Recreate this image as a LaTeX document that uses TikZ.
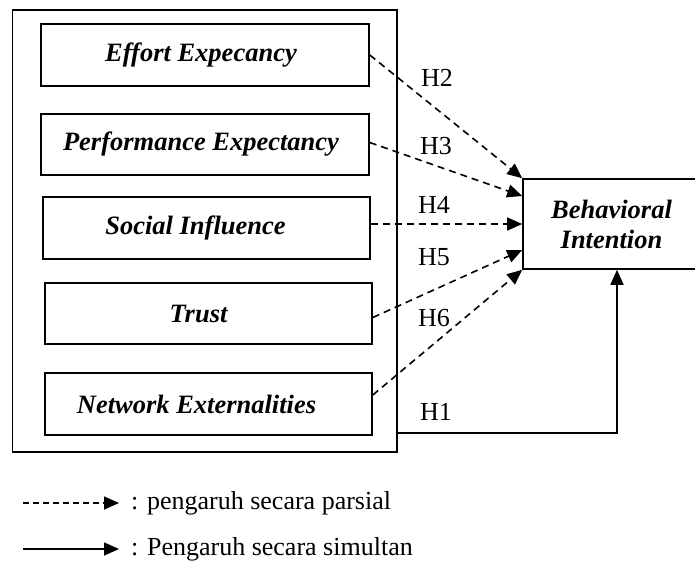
\documentclass[tikz,border=0pt]{standalone}
\usepackage{fontspec}
\setmainfont{Liberation Serif}
\usetikzlibrary{arrows.meta}
\begin{document}
\begin{tikzpicture}[x=1pt,y=-1pt,
  box/.style={draw, line width=1.6pt, inner sep=0pt, font=\fontsize{26.5}{30}\selectfont\bfseries\itshape},
  dasharrow/.style={draw, line width=1.6pt, dash pattern=on 7pt off 5pt, -{Triangle[length=15pt,width=13pt]}},
  solidarrow/.style={draw, line width=1.6pt, -{Triangle[length=15pt,width=13pt]}},
  hlabel/.style={font=\fontsize{26}{30}\selectfont, inner sep=0pt},
]
\useasboundingbox (0,0) rectangle (695,565);
\node[draw, line width=1.6pt, minimum width=384.5pt, minimum height=442pt, inner sep=0pt] (outer) at (204.75,231) {};
\node[box, minimum width=328pt, minimum height=62pt] (ee) at (205,55) {Effort Expecancy\hspace*{8pt}};
\node[box, minimum width=328pt, minimum height=61pt] (pe) at (205,144.5) {Performance Expectancy\hspace*{8pt}};
\node[box, minimum width=327pt, minimum height=62pt] (si) at (206.5,228) {Social Influence\hspace*{22pt}};
\node[box, minimum width=327pt, minimum height=61pt] (tr) at (208.5,313.5) {Trust\hspace*{20pt}};
\node[box, minimum width=327pt, minimum height=62pt] (ne) at (208.5,404) {Network Externalities\hspace*{24pt}};
\node[box, minimum width=177pt, minimum height=90pt, align=center] (bi) at (611.5,224) {Behavioral\\Intention};

\draw[dasharrow] (ee.east) -- (bi.north west);
\draw[dasharrow] ([yshift=2pt]pe.east) -- ([yshift=28pt]bi.west);
\draw[dasharrow] (si.east |- bi.west) -- (bi.west);
\draw[dasharrow] ([yshift=-4pt]tr.east) -- ([yshift=-26pt]bi.west);
\draw[dasharrow] ([yshift=9pt]ne.east) -- (bi.south west);
\coordinate (h1c) at (617,433);
\draw[solidarrow] (outer.east |- h1c) -| ([xshift=5.5pt]bi.south);

\node[hlabel] (h2) at (437,78) {H2};
\node[hlabel] (h3) at (436,146) {H3};
\node[hlabel] (h4) at (434,205) {H4};
\node[hlabel] (h5) at (434,257) {H5};
\node[hlabel] (h6) at (434,318) {H6};
\node[hlabel] (h1) at (436,412) {H1};

\coordinate (l1s) at (23,503);
\coordinate (l1e) at (119,503);
\draw[line width=1.6pt, dash pattern=on 6pt off 4pt, -{Triangle[length=15pt,width=13pt]}] (l1s) -- (l1e);
\node[hlabel, anchor=base west] (t1) at (131,509) {: pengaruh secara parsial};
\coordinate (l2s) at (23,549);
\coordinate (l2e) at (119,549);
\draw[solidarrow] (l2s) -- (l2e);
\node[hlabel, anchor=base west] (t2) at (131,555) {: Pengaruh secara simultan};
\end{tikzpicture}
\end{document}
